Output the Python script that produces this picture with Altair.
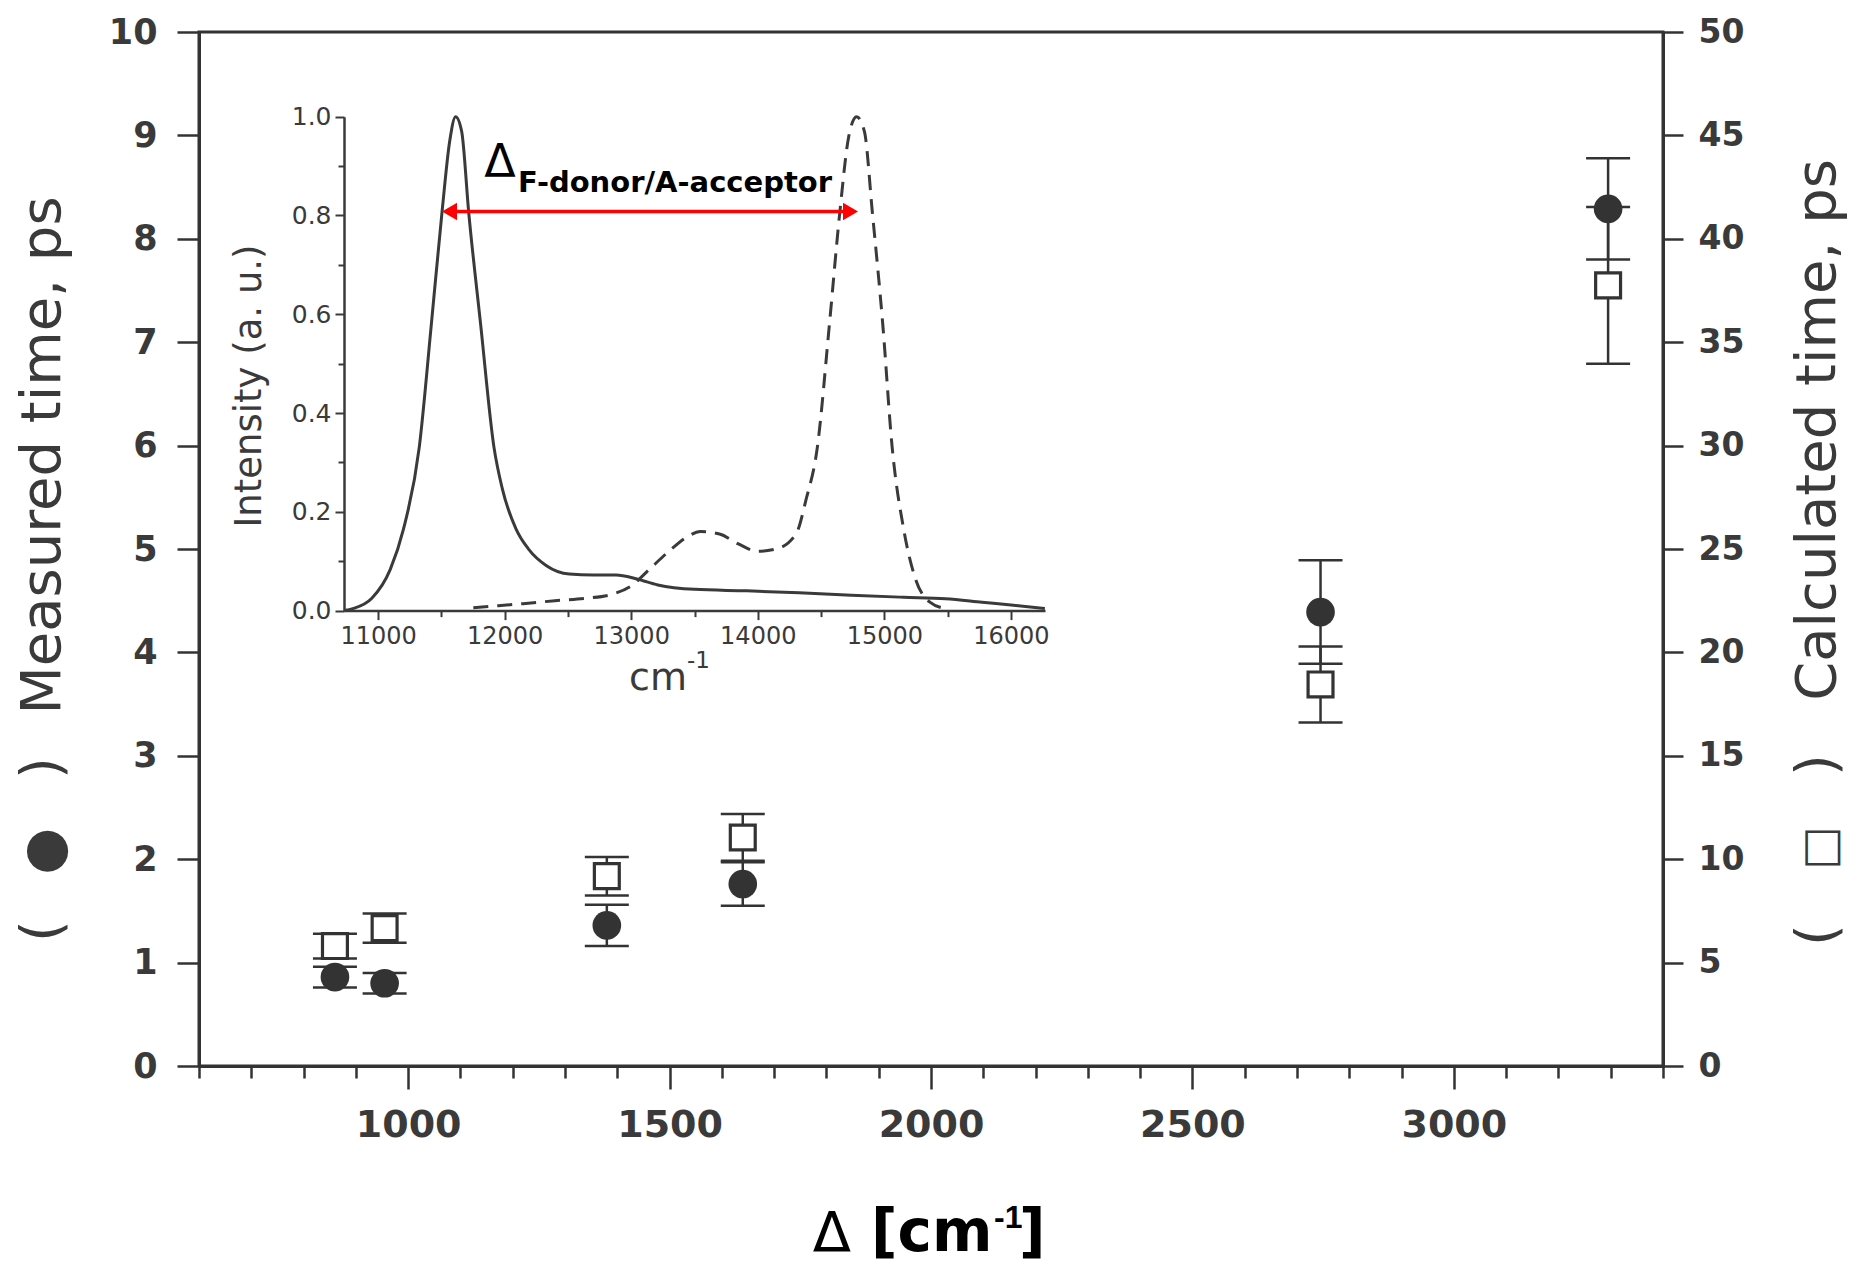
import altair as alt
import pandas as pd

DARK = "#333333"
INK = "#3a3a3a"
RED = "#ff0000"

# ---------------- main data ----------------
delta_cm = [860, 955, 1380, 1640, 2745, 3295]
measured_ps = [0.86, 0.80, 1.36, 1.76, 4.39, 8.29]
measured_err = [0.10, 0.10, 0.20, 0.21, 0.50, 0.49]
calculated_ps = [5.80, 6.67, 9.18, 11.05, 18.45, 37.75]
calculated_err = [0.60, 0.71, 0.93, 1.13, 1.84, 3.79]

x_tick_values = list(range(600, 3401, 100))
left_tick_values = list(range(0, 11, 1))
right_tick_values = list(range(0, 51, 5))

# ---------------- inset data ----------------
donor_wavenumber = [10731, 10800, 10950, 11095, 11200, 11325, 11420, 11505, 11565, 11612,
                    11660, 11715, 11810, 11915, 11980, 12090, 12190, 12330, 12510, 12700,
                    12880, 13045, 13210, 13500, 13913, 14326, 14740, 15153, 15483, 15773,
                    16021, 16269]
donor_intensity = [0.000, 0.004, 0.025, 0.083, 0.165, 0.331, 0.579, 0.808, 0.950, 1.000,
                   0.970, 0.808, 0.579, 0.331, 0.248, 0.165, 0.124, 0.091, 0.074, 0.072,
                   0.072, 0.064, 0.052, 0.043, 0.040, 0.036, 0.031, 0.027, 0.024, 0.017,
                   0.011, 0.004]
acceptor_wavenumber = [11752, 11950, 12145, 12397, 12645, 12847, 13000, 13149, 13297, 13446,
                       13545, 13698, 13847, 14000, 14149, 14306, 14380, 14471, 14566, 14649,
                       14719, 14781, 14843, 14905, 14988, 15062, 15153, 15244, 15360, 15483]
acceptor_intensity = [0.006, 0.010, 0.014, 0.020, 0.025, 0.033, 0.050, 0.085, 0.120, 0.150,
                      0.160, 0.155, 0.135, 0.120, 0.125, 0.157, 0.223, 0.331, 0.579, 0.808,
                      0.960, 1.000, 0.970, 0.808, 0.579, 0.331, 0.165, 0.066, 0.017, 0.004]
inset_x_tick_values = list(range(11000, 16001, 500))
inset_y_tick_values = [round(0.1 * i, 1) for i in range(11)]
arrow_wavenumber = [11505, 14792]
arrow_intensity = [0.808]
arrow_head = 59  # half head length in wavenumber units
label_wavenumber = [11963, 12105]
label_intensity = [0.878, 0.847]

W, H = 1464, 1034

# ---------------- scales & axes ----------------
X_SCALE = alt.Scale(domain=[600, 3400], nice=False, zero=False)
YL_SCALE = alt.Scale(domain=[0, 10], nice=False, zero=False)
YR_SCALE = alt.Scale(domain=[0, 50], nice=False, zero=False)
IX_SCALE = alt.Scale(domain=[10730, 16270], range=[145, 846], nice=False, zero=False)
IY_SCALE = alt.Scale(domain=[0, 1], range=[578.6, 84.7], nice=False, zero=False)

main_x_axis = alt.Axis(
    orient="bottom", values=x_tick_values, title=None, grid=False,
    labelExpr="datum.value % 500 === 0 ? format(datum.value, 'd') : ''",
    tickSize={"condition": {"test": "datum.value % 500 === 0", "value": 23}, "value": 12},
    labelFont="DejaVu Sans", labelFontWeight="bold", labelFontSize=38, labelColor=INK,
    labelPadding=17, tickWidth=2.5, tickColor=DARK, domainColor=DARK, domainWidth=3,
    labelFlush=False, labelOverlap=False)
left_axis = alt.Axis(
    orient="left", values=left_tick_values, title=None, grid=False, format="d",
    tickSize=22, labelPadding=20, labelFont="DejaVu Sans", labelFontWeight="bold",
    labelFontSize=35, labelColor=INK, tickWidth=2.5, tickColor=DARK,
    domainColor=DARK, domainWidth=3, labelFlush=False, labelOverlap=False)
right_axis = alt.Axis(
    orient="right", values=right_tick_values, title=None, grid=False, format="d",
    tickSize=20, labelPadding=15, labelFont="DejaVu Sans", labelFontWeight="bold",
    labelFontSize=33, labelColor=INK, tickWidth=2.5, tickColor=DARK,
    domainColor=DARK, domainWidth=3, labelFlush=False, labelOverlap=False)
inset_x_axis = alt.Axis(
    orient="bottom", offset=-455.4, values=inset_x_tick_values, title=None, grid=False,
    labelExpr="datum.value % 1000 === 0 ? format(datum.value, 'd') : ''",
    tickSize={"condition": {"test": "datum.value % 1000 === 0", "value": 9}, "value": 6},
    labelFont="DejaVu Sans", labelFontSize=24, labelColor=INK, labelPadding=5,
    tickWidth=2, tickColor=INK, domainColor=INK, domainWidth=2.5,
    labelFlush=False, labelOverlap=False)
inset_y_axis = alt.Axis(
    orient="left", offset=-145, values=inset_y_tick_values, title=None, grid=False,
    labelExpr="round(datum.value * 10) % 2 === 0 ? format(datum.value, '.1f') : ''",
    tickSize={"condition": {"test": "round(datum.value * 10) % 2 === 0", "value": 9}, "value": 6},
    labelFont="DejaVu Sans", labelFontSize=25, labelColor=INK, labelPadding=4,
    tickWidth=2, tickColor=INK, domainColor=INK, domainWidth=2.5,
    labelFlush=False, labelOverlap=False)

# ---------------- measured (left axis) ----------------
meas_df = pd.DataFrame({"delta": delta_cm, "v": measured_ps, "e": measured_err})
mbase = alt.Chart(meas_df).transform_calculate(lo="datum.v - datum.e", hi="datum.v + datum.e")
mx = alt.X("delta:Q", scale=X_SCALE, axis=main_x_axis)
m_err = mbase.mark_rule(color=DARK, strokeWidth=2.5).encode(
    x=mx, y=alt.Y("lo:Q", scale=YL_SCALE, axis=left_axis), y2="hi:Q")
m_cap_lo = mbase.mark_point(shape="stroke", size=1936, color=DARK, strokeWidth=2.5, opacity=1).encode(
    x=mx, y=alt.Y("lo:Q", scale=YL_SCALE, axis=left_axis))
m_cap_hi = mbase.mark_point(shape="stroke", size=1936, color=DARK, strokeWidth=2.5, opacity=1).encode(
    x=mx, y=alt.Y("hi:Q", scale=YL_SCALE, axis=left_axis))
m_pts = mbase.mark_point(shape="circle", filled=True, size=820, color=DARK, opacity=1).encode(
    x=mx, y=alt.Y("v:Q", scale=YL_SCALE, axis=left_axis))
meas_layer = alt.layer(m_err, m_cap_lo, m_cap_hi, m_pts)

# ---------------- calculated (right axis) ----------------
calc_df = pd.DataFrame({"delta": delta_cm, "v": calculated_ps, "e": calculated_err})
cbase = alt.Chart(calc_df).transform_calculate(lo="datum.v - datum.e", hi="datum.v + datum.e")
cx = alt.X("delta:Q", scale=X_SCALE, axis=None)
c_err = cbase.mark_rule(color=DARK, strokeWidth=2.5).encode(
    x=cx, y=alt.Y("lo:Q", scale=YR_SCALE, axis=right_axis), y2="hi:Q")
c_cap_lo = cbase.mark_point(shape="stroke", size=1936, color=DARK, strokeWidth=2.5, opacity=1).encode(
    x=cx, y=alt.Y("lo:Q", scale=YR_SCALE, axis=right_axis))
c_cap_hi = cbase.mark_point(shape="stroke", size=1936, color=DARK, strokeWidth=2.5, opacity=1).encode(
    x=cx, y=alt.Y("hi:Q", scale=YR_SCALE, axis=right_axis))
c_pts = cbase.mark_point(shape="square", filled=False, fill="white", fillOpacity=1, stroke=DARK,
                         strokeWidth=3.2, size=620, opacity=1).encode(
    x=cx, y=alt.Y("v:Q", scale=YR_SCALE, axis=right_axis))
calc_layer = alt.layer(c_err, c_cap_lo, c_cap_hi, c_pts)

# ---------------- inset ----------------
ix = lambda f: alt.X(f"{f}:Q", scale=IX_SCALE, axis=inset_x_axis)
iy = lambda f: alt.Y(f"{f}:Q", scale=IY_SCALE, axis=inset_y_axis)
donor_df = pd.DataFrame({"wn": donor_wavenumber, "i": donor_intensity})
acc_df = pd.DataFrame({"wn": acceptor_wavenumber, "i": acceptor_intensity})
donor = alt.Chart(donor_df).mark_line(color=INK, strokeWidth=3, interpolate="monotone").encode(
    x=ix("wn"), y=iy("i"))
acceptor = alt.Chart(acc_df).mark_line(color=INK, strokeWidth=3, strokeDash=[15, 9],
                                       interpolate="monotone").encode(x=ix("wn"), y=iy("i"))
arrow_df = pd.DataFrame({"a": [arrow_wavenumber[0] + arrow_head], "b": [arrow_wavenumber[1] - arrow_head],
                         "i": arrow_intensity})
arrow_line = alt.Chart(arrow_df).mark_rule(color=RED, strokeWidth=3.5).encode(
    x=ix("a"), x2="b:Q", y=iy("i"))
arrow_left = alt.Chart(arrow_df).mark_point(shape="triangle-left", filled=True, color=RED, size=300,
                                            opacity=1).encode(x=ix("a"), y=iy("i"))
arrow_right = alt.Chart(arrow_df).mark_point(shape="triangle-right", filled=True, color=RED, size=300,
                                             opacity=1).encode(x=ix("b"), y=iy("i"))
lab_delta = alt.Chart(pd.DataFrame({"wn": [label_wavenumber[0]], "i": [label_intensity[0]], "s": ["Δ"]})
                      ).mark_text(font="DejaVu Sans", fontSize=46, color="black", align="center",
                                  baseline="alphabetic").encode(x=ix("wn"), y=iy("i"), text="s:N")
lab_sub = alt.Chart(pd.DataFrame({"wn": [label_wavenumber[1]], "i": [label_intensity[1]],
                                  "s": ["F-donor/A-acceptor"]})
                    ).mark_text(font="DejaVu Sans", fontWeight="bold", fontSize=29, color="black",
                                align="left", baseline="alphabetic").encode(x=ix("wn"), y=iy("i"), text="s:N")
inset_layer = alt.layer(donor, acceptor, arrow_line, arrow_left, arrow_right, lab_delta, lab_sub)


# ---------------- titles (text) ----------------
def txt(s, x, y, size, angle=0, weight="normal", align="center", baseline="alphabetic",
        color=INK, font="DejaVu Sans"):
    return alt.Chart(pd.DataFrame({"s": [s]})).mark_text(
        angle=angle, fontSize=size, fontWeight=weight, align=align, baseline=baseline,
        color=color, font=font).encode(text="s:N", x=alt.value(x), y=alt.value(y))


titles = [
    # left axis title
    txt("(", -139, 899, 56, angle=270),
    txt("●", -151.5, 817, 54, baseline="middle"),
    txt(")", -139, 736, 56, angle=270),
    txt("Measured time, ps", -139, 423.5, 56, angle=270),
    # right axis title
    txt("(", 1636, 903, 56, angle=270),
    txt("□", 1624, 814, 46, baseline="middle"),
    txt(")", 1636, 733, 56, angle=270),
    txt("Calculated time, ps", 1636, 398, 56, angle=270),
    # x axis title
    txt("Δ", 633, 1219, 56, color="black"),
    txt("[cm", 672, 1219, 58, weight="bold", align="left", color="black"),
    txt("-1", 795, 1196, 32, weight="bold", align="left", color="black", font="Liberation Sans"),
    txt("]", 820, 1219, 58, weight="bold", align="left", color="black"),
    # inset titles
    txt("Intensity (a. u.)", 62, 354, 37, angle=270),
    txt("cm", 459, 658, 38),
    txt("-1", 488, 636, 23, align="left"),
]

chart = alt.layer(calc_layer, meas_layer, inset_layer, *titles).resolve_scale(
    x="independent", y="independent"
).properties(
    width=W, height=H,
    autosize=alt.AutoSizeParams(type="none"),
    padding={"left": 191, "top": 24, "right": 188, "bottom": 202},
    background="white",
).configure_view(stroke=DARK, strokeWidth=3)

chart.save("out.html", embed_options={"renderer": "svg", "actions": False})
